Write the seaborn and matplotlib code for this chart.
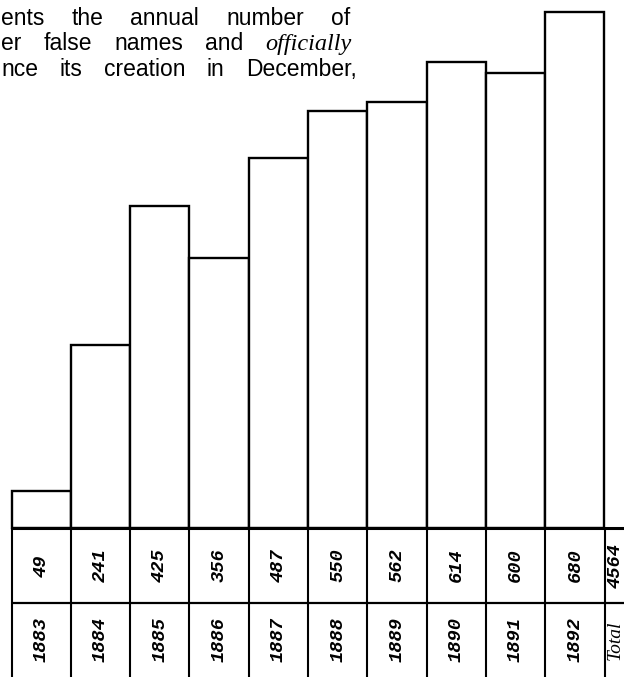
import matplotlib
matplotlib.use("Agg")
import matplotlib.pyplot as plt
import seaborn as sns
import pandas as pd

# ---- data ----
years = ["1883", "1884", "1885", "1886", "1887", "1888", "1889", "1890", "1891", "1892"]
counts = [49, 241, 425, 356, 487, 550, 562, 614, 600, 680]
total_label = "Total"
total_value = 4564
line1 = ["ents", "the", "annual", "number", "of"]
line2 = ["er", "false", "names", "and", "officially"]
line3 = ["nce", "its", "creation", "in", "December,"]

sns.set_theme(style="white")
plt.rcParams["font.family"] = ["Liberation Sans", "DejaVu Sans"]
plt.rcParams["text.color"] = "black"

FW, FH = 624, 677
fig = plt.figure(figsize=(FW / 100, FH / 100), dpi=100)
ax = fig.add_axes([0, 0, 1, 1])

# pixel geometry of the scan
X0 = 11.5      # left edge of first bar (px)
W = 59.3       # bar width (px)
Y0 = 528.0     # baseline (px from top)
S = 516.0 / 680.0  # px per unit

df = pd.DataFrame({"year": years, "count": counts})
sns.barplot(data=df, x="year", y="count", color="white", edgecolor="black",
            linewidth=1.7, width=1.0, saturation=1, errorbar=None, ax=ax, zorder=2)

xmin = -0.5 - X0 / W
xmax = -0.5 + (FW - X0) / W
ymin = -(FH - Y0) / S
ymax = Y0 / S
ax.set_xlim(xmin, xmax)
ax.set_ylim(ymin, ymax)
ax.axis("off")

# table
row_y = -(603 - Y0) / S
ax.plot([-0.5, xmax], [0, 0], color="black", lw=2.2, zorder=3, solid_capstyle="butt")
ax.plot([-0.5, xmax], [row_y, row_y], color="black", lw=1.6, zorder=3, solid_capstyle="butt")
for k in range(len(years) + 1):
    ax.plot([k - 0.5, k - 0.5], [0, ymin], color="black", lw=1.5, zorder=3)

num_style = dict(rotation=90, ha="center", va="center", family="Liberation Mono",
                 style="italic", fontsize=13.5, fontweight="bold", color="black")
val_y = row_y / 2
year_y = (row_y + ymin) / 2
for i, (y, v) in enumerate(zip(years, counts)):
    ax.text(i, val_y, str(v), **num_style)
    ax.text(i, year_y, y, **num_style)
tx = -0.5 + (615.5 - X0) / W
ax.text(tx, val_y, str(total_value), **num_style)
ax.text(tx, year_y, total_label, rotation=90, ha="center", va="center",
        family="Liberation Serif", style="italic", fontsize=14, color="black")

# justified text lines at top-left
renderer = fig.canvas.get_renderer()


def justify(words, styles, y_px, x0_px, x1_px, size=16.5):
    texts = []
    widths = []
    for w, st in zip(words, styles):
        if st == "it":
            t = fig.text(0, 0, w, family="Liberation Serif", style="italic", fontsize=size + 1,
                         ha="left", va="baseline", color="black")
        else:
            t = fig.text(0, 0, w, family="Liberation Sans", fontsize=size,
                         ha="left", va="baseline", color="black")
        texts.append(t)
        widths.append(t.get_window_extent(renderer).width)
    gap = (x1_px - x0_px - sum(widths)) / (len(words) - 1)
    x = x0_px
    for t, wd in zip(texts, widths):
        t.set_position((x / FW, 1 - y_px / FH))
        x += wd + gap


justify(line1, ["n"] * 5, 25, 1, 350)
justify(line2, ["n"] * 4 + ["it"], 50, 1, 352)
justify(line3, ["n"] * 5, 76, 1, 357)

fig.savefig("out.png", dpi=100)
